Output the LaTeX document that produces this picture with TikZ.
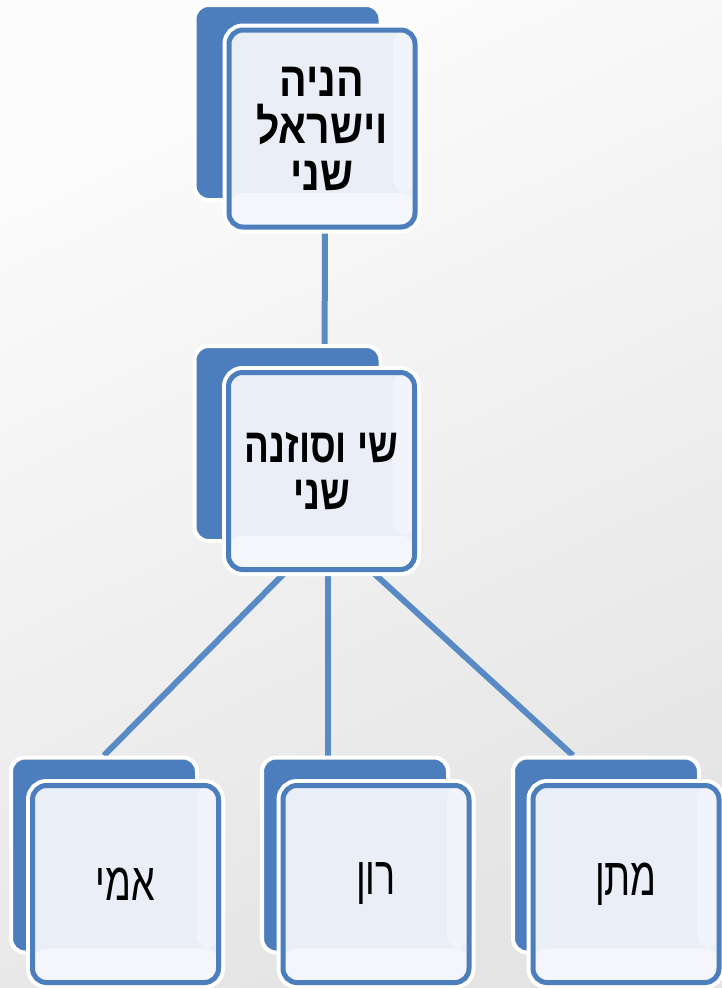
\documentclass[tikz,border=0pt]{standalone}
\usepackage{fontspec}
\usepackage{graphicx}
\newfontfamily\hebfont[Script=Hebrew]{Liberation Sans}
\TeXXeTstate=1
\usetikzlibrary{calc,backgrounds}
\pgfdeclarelayer{paperlayer}
\pgfsetlayers{paperlayer,background,main}
\definecolor{boxblue}{RGB}{76,126,189}
\definecolor{linkblue}{RGB}{88,138,198}
\definecolor{paper}{RGB}{233,238,247}
\definecolor{bglight}{RGB}{252,252,252}
\definecolor{bgdark}{RGB}{228,228,228}
\begin{document}
\begin{tikzpicture}[x=1pt,y=-1pt,
  backbox/.style={rectangle, rounded corners=14pt, fill=boxblue, draw=white,
    line width=4pt, inner sep=0pt, minimum width=186pt, minimum height=195pt},
  frontbox/.style={rectangle, rounded corners=14pt, fill=paper, draw=boxblue,
    line width=5pt, preaction={draw=white, line width=13pt},
    inner sep=0pt, align=center, minimum width=186pt, minimum height=197pt,
    path picture={
      \fill[white, opacity=0.5] ($(path picture bounding box.south west)$) rectangle
        ($(path picture bounding box.south east)+(0,-34)$);
      \fill[white, opacity=0.4] ($(path picture bounding box.north east)+(-22,0)$) rectangle
        ($(path picture bounding box.south east)+(0,-34)$);
    }},
  bigtext/.style={font=\hebfont\bfseries\fontsize{41}{47}\selectfont},
  leaftext/.style={font=\hebfont\fontsize{46}{50}\selectfont},
  link/.style={draw=linkblue, line width=6pt}]
\useasboundingbox (0,0) rectangle (722,988);
\begin{pgfonlayer}{paperlayer}
  \shade[top color=bglight, bottom color=bgdark, shading angle=25] (0,0) rectangle (722,988);
\end{pgfonlayer}

% top couple
\node[backbox] (topB) at (287.5,102.5) {};
\node[frontbox, bigtext] (top) at (322,128.5)
  {\scalebox{1}[1.18]{\beginR הניה\endR}\\
   \scalebox{1}[1.18]{\beginR וישראל\endR}\\
   \scalebox{1}[1.18]{\beginR שני\endR}};

% middle couple
\node[backbox] (midB) at (287.5,443.5) {};
\node[frontbox, bigtext] (mid) at (321.5,471)
  {\scalebox{0.9}[1.18]{\beginR שי וסוזנה\endR}\\
   \scalebox{0.9}[1.18]{\beginR שני\endR}};

% children
\node[backbox] (b1B) at (104,855) {};
\node[frontbox, leaftext] (b1) at (125.5,884)
  {\raisebox{-4pt}{\scalebox{0.82}[1.16]{\beginR אמי\endR}}};
\node[backbox] (b2B) at (355,855) {};
\node[frontbox, leaftext] (b2) at (376,884)
  {\raisebox{-4pt}{\scalebox{0.82}[1.16]{\beginR רון\endR}}};
\node[backbox] (b3B) at (606,855) {};
\node[frontbox, leaftext] (b3) at (626,884)
  {\raisebox{-4pt}{\scalebox{0.82}[1.16]{\beginR מתן\endR}}};

\coordinate (mL) at ($(mid.south)+(-36,0)$);
\coordinate (mC) at ($(mid.south)+(6,0)$);
\coordinate (mR) at ($(mid.south)+(51,0)$);
\coordinate (eC) at ($(b2B.north)+(-28,0)$);
\coordinate (eR) at ($(b3B.north)+(-33,0)$);

\begin{pgfonlayer}{background}
  \draw[link] ($(top.south)+(3,0)$) -- ($(mid.north)+(3,0)$);
  \draw[link] (mL) -- (b1B.north);
  \draw[link] (mC) -- (mC |- eC);
  \draw[link] (mR) -- (eR);
\end{pgfonlayer}
\end{tikzpicture}
\end{document}
